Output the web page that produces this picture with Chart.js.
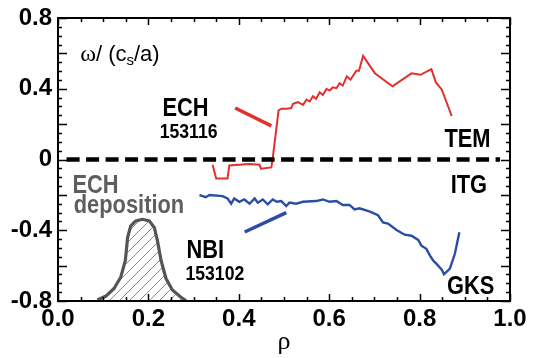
<!DOCTYPE html>
<html>
<head>
<meta charset="utf-8">
<script src="https://cdn.jsdelivr.net/npm/chart.js@4/dist/chart.umd.min.js"></script>
<style>
html,body{margin:0;padding:0;background:#fff;}
#c{display:block;}
</style>
</head>
<body>
<canvas id="c" width="533" height="358"></canvas>
<script>
// ---- data ----
const xTickLabels = ['0.0','0.2','0.4','0.6','0.8','1.0'];
const yTickLabels = ['-0.8','-0.4','0','0.4','0.8'];

const echRho = [0.342,0.350,0.375,0.379,0.423,0.446,0.449,0.472,0.475,0.488,0.494,0.506,0.516,0.520,0.531,0.542,0.550,0.557,0.564,0.571,0.579,0.586,0.594,0.601,0.608,0.616,0.623,0.630,0.639,0.647,0.660,0.666,0.675,0.701,0.740,0.782,0.802,0.826,0.836,0.849,0.871];
const echOmega = [-0.030,-0.108,-0.108,-0.034,-0.026,-0.030,-0.052,-0.045,0.007,0.278,0.287,0.287,0.291,0.315,0.324,0.309,0.339,0.328,0.358,0.343,0.380,0.365,0.399,0.390,0.408,0.403,0.431,0.418,0.470,0.451,0.502,0.502,0.586,0.488,0.414,0.487,0.479,0.511,0.436,0.396,0.246];

const nbiRho = [0.313,0.327,0.335,0.364,0.375,0.383,0.390,0.401,0.412,0.424,0.435,0.442,0.453,0.464,0.475,0.484,0.494,0.505,0.512,0.527,0.542,0.571,0.586,0.601,0.616,0.630,0.645,0.656,0.667,0.690,0.708,0.719,0.730,0.749,0.767,0.782,0.797,0.804,0.815,0.823,0.830,0.837,0.849,0.854,0.867,0.878,0.888];
const nbiOmega = [-0.201,-0.213,-0.201,-0.207,-0.220,-0.250,-0.220,-0.239,-0.226,-0.250,-0.220,-0.244,-0.226,-0.253,-0.226,-0.239,-0.235,-0.263,-0.244,-0.250,-0.239,-0.235,-0.226,-0.239,-0.235,-0.257,-0.257,-0.282,-0.276,-0.295,-0.315,-0.356,-0.362,-0.399,-0.425,-0.431,-0.455,-0.487,-0.505,-0.543,-0.571,-0.589,-0.623,-0.649,-0.617,-0.533,-0.412];

const depRho = [0.087,0.106,0.124,0.139,0.149,0.154,0.161,0.172,0.187,0.202,0.213,0.220,0.228,0.239,0.253,0.272,0.283];
const depVal = [-0.794,-0.772,-0.729,-0.664,-0.571,-0.440,-0.375,-0.347,-0.338,-0.347,-0.384,-0.459,-0.571,-0.673,-0.738,-0.779,-0.798];

const echKeyRho = [0.392,0.472];
const echKeyVal = [0.291,0.190];
const nbiKeyRho = [0.413,0.505];
const nbiKeyVal = [-0.410,-0.300];

const zeroRho = [0.019,0.978];
const zeroVal = [0,0];

// ---- fonts ----
const FAM = '"Liberation Sans", Arial, sans-serif';
const SZ = {big:26, num:21};
const SQUEEZE = 0.84;   // condensed look

const mctx = document.createElement('canvas').getContext('2d');
const pts = (xs, ys) => xs.map((x,i)=>({x:x, y:ys[i]}));

// hatch pattern
function hatch(){
  const p = document.createElement('canvas');
  p.width = 10; p.height = 10;
  const g = p.getContext('2d');
  g.strokeStyle = '#8a8a8a'; g.lineWidth = 1;
  g.beginPath();
  g.moveTo(0,10); g.lineTo(10,0);
  g.moveTo(-5,5); g.lineTo(5,-5);
  g.moveTo(5,15); g.lineTo(15,5);
  g.stroke();
  return mctx.createPattern(p,'repeat');
}

const annotations = [
  {t:'ECH', x:0.282, y:0.285, c:'#000', s:'big'},
  {t:'153116', x:0.289, y:0.157, c:'#000', s:'num'},
  {t:'TEM', x:0.906, y:0.112, c:'#000', s:'big'},
  {t:'ITG', x:0.909, y:-0.151, c:'#000', s:'big'},
  {t:'GKS', x:0.913, y:-0.722, c:'#000', s:'big'},
  {t:'ECH', x:0.083, y:-0.151, c:'#5e5e5e', s:'big'},
  {t:'deposition', x:0.157, y:-0.263, c:'#5e5e5e', s:'big'},
  {t:'NBI', x:0.326, y:-0.515, c:'#000', s:'big'},
  {t:'153102', x:0.347, y:-0.649, c:'#000', s:'num'}
];

const framePlugin = {
  id:'frame',
  afterDatasetsDraw(chart){
    const {ctx, chartArea:a, scales:{x, y}} = chart;
    ctx.save();
    // annotations (condensed bold)
    ctx.textAlign = 'center'; ctx.textBaseline = 'middle';
    annotations.forEach(an=>{
      ctx.save();
      ctx.fillStyle = an.c;
      ctx.font = 'bold ' + SZ[an.s] + 'px ' + FAM;
      const px = x.getPixelForValue(an.x), py = y.getPixelForValue(an.y);
      ctx.translate(px, py);
      ctx.scale(SQUEEZE, 1);
      ctx.fillText(an.t, 0, 0);
      ctx.restore();
    });
    // omega label
    let px = x.getPixelForValue(0.049), py = y.getPixelForValue(0.593);
    ctx.textAlign = 'left'; ctx.fillStyle = '#000';
    ctx.font = '24px "Liberation Serif"';
    ctx.fillText('\u03C9', px, py); px += ctx.measureText('\u03C9').width;
    ctx.font = '22px ' + FAM;
    ctx.fillText('/ (c', px, py); px += ctx.measureText('/ (c').width;
    ctx.font = '15px ' + FAM;
    ctx.fillText('s', px, py + 6); px += ctx.measureText('s').width;
    ctx.font = '22px ' + FAM;
    ctx.fillText('/a)', px, py);
    // frame
    ctx.strokeStyle = '#000'; ctx.lineWidth = 2;
    ctx.strokeRect(a.left, a.top, a.right - a.left, a.bottom - a.top);
    ctx.lineWidth = 1.5;
    ctx.beginPath();
    for (let i = 0; i <= 32; i++) {
      const v = -0.8 + i*0.05;
      const yy = Math.round(y.getPixelForValue(v)) + 0.5;
      const len = (i % 4 === 0) ? 9 : 4;
      ctx.moveTo(a.left, yy); ctx.lineTo(a.left + len, yy);
      ctx.moveTo(a.right, yy); ctx.lineTo(a.right - len, yy);
    }
    for (let i = 0; i <= 20; i++) {
      const v = i*0.05;
      const xx = Math.round(x.getPixelForValue(v)) + 0.5;
      const len = (i % 4 === 0) ? 7 : 4;
      ctx.moveTo(xx, a.bottom); ctx.lineTo(xx, a.bottom - len);
      ctx.moveTo(xx, a.top); ctx.lineTo(xx, a.top + len);
    }
    ctx.stroke();
    ctx.restore();
  }
};

new Chart(document.getElementById('c'), {
  type:'scatter',
  data:{
    datasets:[
      {data:pts(depRho, depVal), showLine:true, borderColor:'#555', borderWidth:3.2, pointRadius:0, fill:'start', backgroundColor:hatch(), tension:0},
      {data:pts(zeroRho, zeroVal), showLine:true, borderColor:'#000', borderWidth:4.5, borderDash:[13,6.5], pointRadius:0, fill:false},
      {data:pts(echRho, echOmega), showLine:true, borderColor:'#e0312f', borderWidth:2, pointRadius:0, fill:false},
      {data:pts(nbiRho, nbiOmega), showLine:true, borderColor:'#2a4ea6', borderWidth:2.4, pointRadius:0, fill:false},
      {data:pts(echKeyRho, echKeyVal), showLine:true, borderColor:'#e0312f', borderWidth:3.5, pointRadius:0, fill:false},
      {data:pts(nbiKeyRho, nbiKeyVal), showLine:true, borderColor:'#2a4ea6', borderWidth:3.5, pointRadius:0, fill:false}
    ]
  },
  options:{
    responsive:false,
    devicePixelRatio:1,
    animation:false,
    layout:{padding:{top:15, right:23, left:0, bottom:0}},
    plugins:{legend:{display:false}, tooltip:{enabled:false}},
    scales:{
      x:{
        type:'linear', min:0, max:1,
        grid:{display:false, drawTicks:false}, border:{display:false},
        ticks:{stepSize:0.2, padding:6, color:'#000', font:{family:FAM, size:24, weight:'bold', lineHeight:1},
          callback:(v,i)=>xTickLabels[i]},
        title:{display:true, text:'\u03C1', color:'#000', font:{family:'"Liberation Serif"', size:26, lineHeight:1.2}, padding:{top:0,bottom:0}},
        afterFit:(s)=>{s.height = 57;}
      },
      y:{
        type:'linear', min:-0.8, max:0.8,
        grid:{display:false, drawTicks:false}, border:{display:false},
        ticks:{stepSize:0.4, padding:6, color:'#000', font:{family:FAM, size:24, weight:'bold', lineHeight:1},
          callback:(v,i)=>yTickLabels[i]},
        afterFit:(s)=>{s.width = 58;}
      }
    }
  },
  plugins:[framePlugin]
});
</script>
</body>
</html>
